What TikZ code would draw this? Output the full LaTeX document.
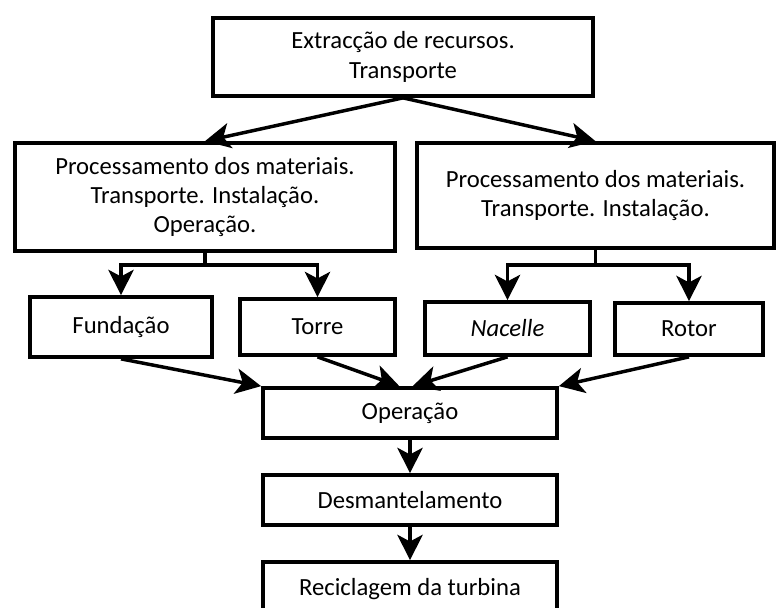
\documentclass[tikz,border=0pt]{standalone}
\usepackage{fontspec}
\setmainfont{Carlito}
\usepackage{tikz}
\usetikzlibrary{arrows.meta, positioning}

\begin{document}
\begin{tikzpicture}[x=0.75pt, y=-0.75pt,
    box/.style 2 args={draw, line width=2.8pt, minimum width=#1*0.75pt,
                minimum height=#2*0.75pt, align=center,
                font=\fontsize{18.5}{23}\selectfont, inner sep=0pt},
    arr/.style={line width=2.6pt, -{Stealth[length=19pt, width=19pt, inset=5pt]}}]
    \useasboundingbox (0,0) rectangle (777,607);
    \clip (0,0) rectangle (777,607);
    \node[box={380}{78}] (extr) at (403,57) {Extracção de recursos.\\[-1pt] Transporte};
    \node[box={380}{108}] (procA) at (205,197) {Processamento dos materiais.\\[-1pt] Transporte. Instalação.\\[-1pt] Operação.};
    \node[box={357}{105}] (procB) at (595.5,195.5) {Processamento dos materiais.\\[-1pt] Transporte. Instalação.};
    \node[box={182}{60}] (fund) at (121,327) {Fundação};
    \node[box={155}{56}] (torre) at (317.5,327) {Torre};
    \node[box={165}{53}] (nacelle) at (507.5,328.5) {\itshape Nacelle};
    \node[box={148}{52}] (rotor) at (689,329) {Rotor};
    \node[box={294}{50}] (oper) at (410,413) {Operação};
    \node[box={294}{50}] (desm) at (410,500) {Desmantelamento};
    \node[box={294}{54}] (recic) at (410,589) {Reciclagem da turbina};

    \draw[arr] (extr.south) -- (procA.north);
    \draw[arr] (extr.south) -- (procB.north);
    \draw[arr] (procA.south) -- ++(0,12) -| (fund.north);
    \draw[arr] (procA.south) -- ++(0,12) -| (torre.north);
    \draw[arr] (procB.south) -- ++(0,15) -| (nacelle.north);
    \draw[arr] (procB.south) -- ++(0,15) -| (rotor.north);
    \draw[arr] (fund.south) -- (oper.north west);
    \draw[arr] (torre.south) -- ([xshift=-8]oper.north);
    \draw[arr] (nacelle.south) -- ([xshift=2]oper.north);
    \draw[arr] (rotor.south) -- (oper.north east);
    \draw[arr] (oper) -- (desm);
    \draw[arr] (desm) -- (recic);
\end{tikzpicture}
\end{document}
